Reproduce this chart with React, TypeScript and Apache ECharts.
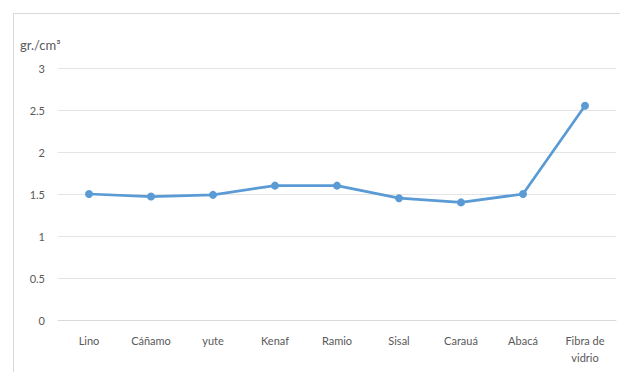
import React, { useEffect, useRef } from "react";
import * as echarts from "echarts";

// Densidad de fibras naturales frente a la fibra de vidrio
const categories = ["Lino", "Cáñamo", "yute", "Kenaf", "Ramio", "Sisal", "Carauá", "Abacá", "Fibra de\nvidrio"];
const densities = [1.5, 1.47, 1.49, 1.6, 1.6, 1.45, 1.4, 1.5, 2.55];
const yTicks = { min: 0, max: 3, interval: 0.5 };
const unitLabel = "gr./cm³";

export default function App() {
  const ref = useRef<HTMLDivElement>(null);

  useEffect(() => {
    if (!ref.current) return;
    const chart = echarts.init(ref.current, undefined, { renderer: "svg" });
    const textColor = "#595959";
    chart.setOption({
      animation: false,
      backgroundColor: "#ffffff",
      textStyle: { fontFamily: "Lato, 'Open Sans', sans-serif" },
      graphic: [
        {
          type: "rect",
          shape: { x: 13.5, y: 13.5, width: 620, height: 400 },
          style: { fill: "none", stroke: "#d9d9d9", lineWidth: 1 },
          silent: true,
        },
        {
          type: "text",
          left: 20,
          top: 38,
          style: { text: unitLabel, fill: textColor, font: "13px Lato, 'Open Sans', sans-serif" },
        },
      ],
      grid: { left: 58, right: 4, top: 68, bottom: 52, containLabel: false },
      xAxis: {
        type: "category",
        data: categories,
        boundaryGap: true,
        axisLine: { show: true, lineStyle: { color: "#d9d9d9" } },
        axisTick: { show: false },
        axisLabel: { color: textColor, fontSize: 11, margin: 12, lineHeight: 17, interval: 0 },
      },
      yAxis: {
        type: "value",
        min: yTicks.min,
        max: yTicks.max,
        interval: yTicks.interval,
        axisLine: { show: false },
        axisTick: { show: false },
        axisLabel: { color: textColor, fontSize: 11, margin: 13 },
        splitLine: { lineStyle: { color: "#e4e4e4", width: 1 } },
      },
      series: [
        {
          type: "line",
          data: densities,
          symbol: "circle",
          symbolSize: 8,
          lineStyle: { color: "#5b9bd5", width: 2.75 },
          itemStyle: { color: "#5b9bd5" },
        },
      ],
    });
    return () => chart.dispose();
  }, []);

  return <div ref={ref} style={{ width: 620, height: 372, position: "absolute", left: 0, top: 0 }} />;
}
